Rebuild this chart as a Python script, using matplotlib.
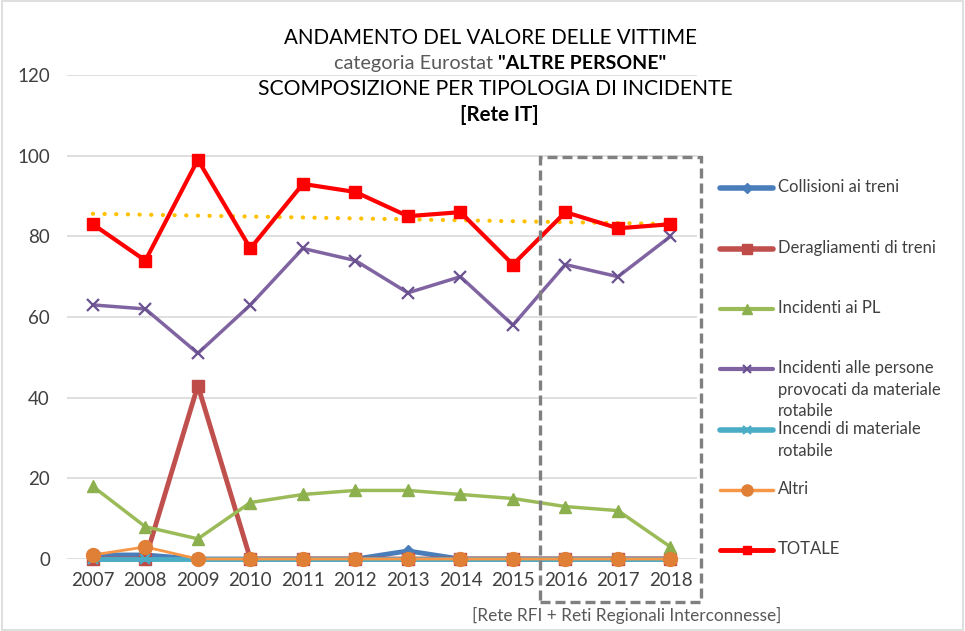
import numpy as np
import matplotlib
matplotlib.use("Agg")
import matplotlib.pyplot as plt
from matplotlib.lines import Line2D
from matplotlib.patches import Rectangle

plt.rcParams['font.family'] = ['Lato', 'DejaVu Sans']

# data
years = ['2007', '2008', '2009', '2010', '2011', '2012', '2013', '2014', '2015', '2016', '2017', '2018']
collisioni = [1, 1, 0, 0, 0, 0, 2, 0, 0, 0, 0, 0]
deragliamenti = [0, 0, 43, 0, 0, 0, 0, 0, 0, 0, 0, 0]
incidenti_pl = [18, 8, 5, 14, 16, 17, 17, 16, 15, 13, 12, 3]
incidenti_persone = [63, 62, 51, 63, 77, 74, 66, 70, 58, 73, 70, 80]
incendi = [0, 0, 0, 0, 0, 0, 0, 0, 0, 0, 0, 0]
altri = [1, 3, 0, 0, 0, 0, 0, 0, 0, 0, 0, 0]
totale = [83, 74, 99, 77, 93, 91, 85, 86, 73, 86, 82, 83]

series = [
    ("Collisioni ai treni", collisioni, '#4A7EBB', 'D', 6, 3.5, '#4A7EBB'),
    ("Deragliamenti di treni", deragliamenti, '#C0504D', 's', 8.5, 3.5, '#BE4B48'),
    ("Incidenti ai PL", incidenti_pl, '#9BBB59', '^', 9, 2.5, '#8CB04E'),
    ("Incidenti alle persone\nprovocati da materiale\nrotabile", incidenti_persone, '#8064A2', 'x', 8, 2.5, '#6A5190'),
    ("Incendi di materiale\nrotabile", incendi, '#4BACC6', 'x', 7, 3.5, '#4BACC6'),
    ("Altri", altri, '#F79646', 'o', 10, 2.0, '#E07F36'),
    ("TOTALE", totale, '#FF0000', 's', 8, 3.0, '#FF0000'),
]

fig = plt.figure(figsize=(9.65, 6.31), dpi=100)
ax = fig.add_axes([0.069, 0.1141, 0.653, 0.767])
x = np.arange(len(years))

for i, (name, vals, col, mk, ms, lw, mcol) in enumerate(series):
    ax.plot(x, vals, color=col, lw=lw, marker=mk, ms=ms, mfc=mcol, mec=mcol,
            mew=1.6 if mk == 'x' else 1, clip_on=False, zorder=3 + i)

# linear trend of TOTALE
coef = np.polyfit(x, totale, 1)
ax.plot(x, np.polyval(coef, x), color='#FFC000', lw=3.0,
        linestyle=(0, (0.05, 2.75)), dash_capstyle='round', zorder=2)

ax.set_xlim(-0.5, 11.5)
ax.set_ylim(0, 120)
ax.set_yticks(range(0, 121, 20))
ax.set_xticks(x)
ax.set_xticklabels(years)
ax.tick_params(length=0, labelsize=13.5, colors='#404040')
ax.tick_params(axis='y', pad=12)
ax.tick_params(axis='x', pad=9)
ax.grid(axis='y', color='#D9D9D9', lw=1.2)
ax.set_axisbelow(True)
for s in ax.spines.values():
    s.set_visible(False)

# title, line by line
fig.text(0.508, 0.940, "ANDAMENTO DEL VALORE DELLE VITTIME", ha='center', va='center',
         fontsize=14.8, color='#000000')
t1 = fig.text(0.0, 0.900, 'categoria Eurostat ', ha='left', va='center',
              fontsize=14.3, color='#595959')
t2 = fig.text(0.0, 0.900, '"ALTRE PERSONE"', ha='left', va='center',
              fontsize=14.0, color='#000000', fontweight='bold')
fig.text(0.513, 0.859, "SCOMPOSIZIONE PER TIPOLOGIA DI INCIDENTE", ha='center', va='center',
         fontsize=15.2, color='#000000')
fig.text(0.517, 0.818, "[Rete IT]", ha='center', va='center',
         fontsize=14.8, color='#000000', fontweight='bold')

fig.canvas.draw()
r = fig.canvas.get_renderer()
w1 = t1.get_window_extent(r).width
w2 = t2.get_window_extent(r).width
x0 = 0.518 * fig.bbox.width - (w1 + w2) / 2
t1.set_x(x0 / fig.bbox.width)
t2.set_x((x0 + w1) / fig.bbox.width)

# manual legend
leg_y = [188, 249, 309, 369, 430, 490, 550]
H = 631.0
W = 965.0
for (name, vals, col, mk, ms, lw, mcol), yp in zip(series, leg_y):
    yf = 1 - yp / H
    fig.add_artist(Line2D([720 / W, 773 / W], [yf, yf], color=col, lw=lw + 0.5,
                          solid_capstyle='round'))
    fig.add_artist(Line2D([746.5 / W], [yf], marker=mk, ms=ms * 0.8, mfc=mcol, mec=mcol,
                          mew=1.6 if mk == 'x' else 1, color=col))
    fig.text(778 / W, yf + 0.0135, name, ha='left', va='top', fontsize=12,
             color='#404040', linespacing=1.42)

# dashed box around the last years
fig.add_artist(Rectangle((540 / W, 1 - 602 / H), 161 / W, 445 / H, fill=False,
                         edgecolor='#808080', lw=2.4, linestyle=(0, (3, 1.5))))
fig.text(627 / W, 1 - 615 / H, "[Rete RFI + Reti Regionali Interconnesse]", ha='center',
         va='center', fontsize=12.4, color='#595959')

# chart border
fig.add_artist(Rectangle((0.002, 0.002), 0.996, 0.996, fill=False, edgecolor='#D9D9D9', lw=1.2))

fig.savefig('out.png', dpi=100)
